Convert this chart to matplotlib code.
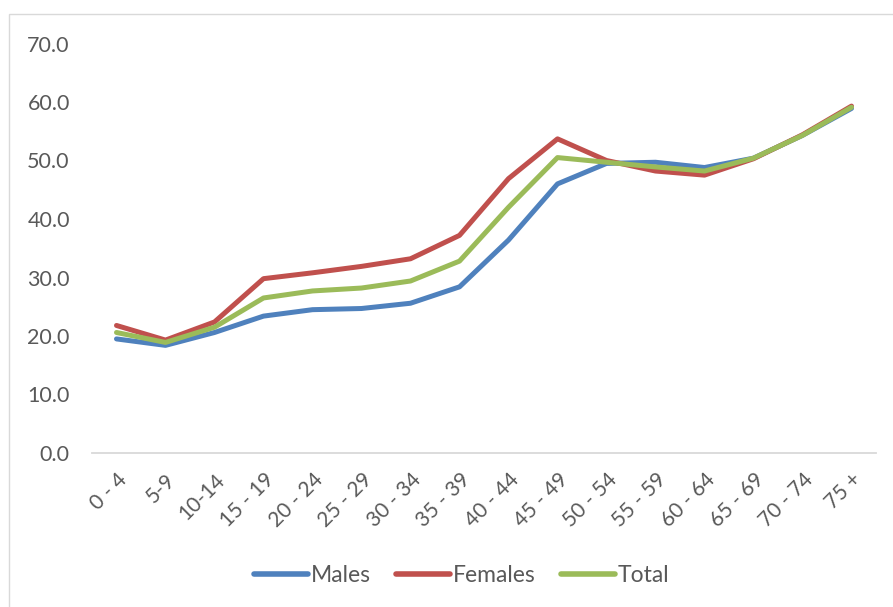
import matplotlib
matplotlib.use("Agg")
import matplotlib.pyplot as plt
from matplotlib.patches import Rectangle

age_groups = ["0 - 4", "5-9", "10-14", "15 - 19", "20 - 24", "25 - 29", "30 - 34",
              "35 - 39", "40 - 44", "45 - 49", "50 - 54", "55 - 59", "60 - 64",
              "65 - 69", "70 - 74", "75 +"]
males = [19.5, 18.4, 20.6, 23.4, 24.5, 24.7, 25.6, 28.4, 36.4, 46.0, 49.5, 49.7, 48.8, 50.4, 54.3, 58.9]
females = [21.8, 19.3, 22.4, 29.8, 30.8, 31.9, 33.2, 37.2, 46.9, 53.7, 50.0, 48.2, 47.5, 50.3, 54.4, 59.3]
total = [20.6, 18.9, 21.5, 26.5, 27.7, 28.2, 29.4, 32.8, 42.0, 50.5, 49.7, 48.9, 48.2, 50.4, 54.3, 59.1]

yticks = [0, 10, 20, 30, 40, 50, 60, 70]

text_color = "#595959"
plt.rcParams["font.family"] = ["Lato", "DejaVu Sans"]

fig = plt.figure(figsize=(8.93, 6.07), dpi=100)
fig.patches.append(Rectangle((9 / 893, -0.1), 1.2, 1 - 14 / 607 + 0.1,
                             transform=fig.transFigure, fill=False,
                             edgecolor="#D9D9D9", linewidth=1.0))

ax = fig.add_axes([92 / 893, 1 - 453 / 607, 784 / 893, (453 - 43.5) / 607])

x = list(range(len(age_groups)))
series = [("Males", males, "#4F81BD"), ("Females", females, "#C0504D"), ("Total", total, "#9BBB59")]
for name, vals, col in series:
    ax.plot(x, vals, color=col, linewidth=3.6, label=name, solid_capstyle="round",
            solid_joinstyle="round")

ax.set_xlim(-0.5, len(age_groups) - 0.5)
ax.set_ylim(0, 70)
ax.set_yticks(yticks)
ax.set_yticklabels([f"{v:.1f}" for v in yticks], fontsize=15.5, color=text_color)
ax.set_xticks(x)
ax.set_xticklabels(age_groups, rotation=45, ha="right", va="top",
                   rotation_mode="anchor", fontsize=15, color=text_color)
ax.tick_params(axis="both", length=0)
ax.tick_params(axis="y", pad=16)
ax.tick_params(axis="x", pad=12)

for side in ["top", "right", "left"]:
    ax.spines[side].set_visible(False)
ax.spines["bottom"].set_color("#D9D9D9")
ax.spines["bottom"].set_linewidth(1.3)

leg = fig.legend(loc="center", bbox_to_anchor=(462 / 893, 1 - 576 / 607), ncol=3,
                 frameon=False, fontsize=16.5, handlelength=2.35, handletextpad=0.13,
                 columnspacing=1.1, labelcolor=text_color)
for h in leg.legend_handles:
    h.set_linewidth(4)

fig.savefig("out.png", dpi=100)
